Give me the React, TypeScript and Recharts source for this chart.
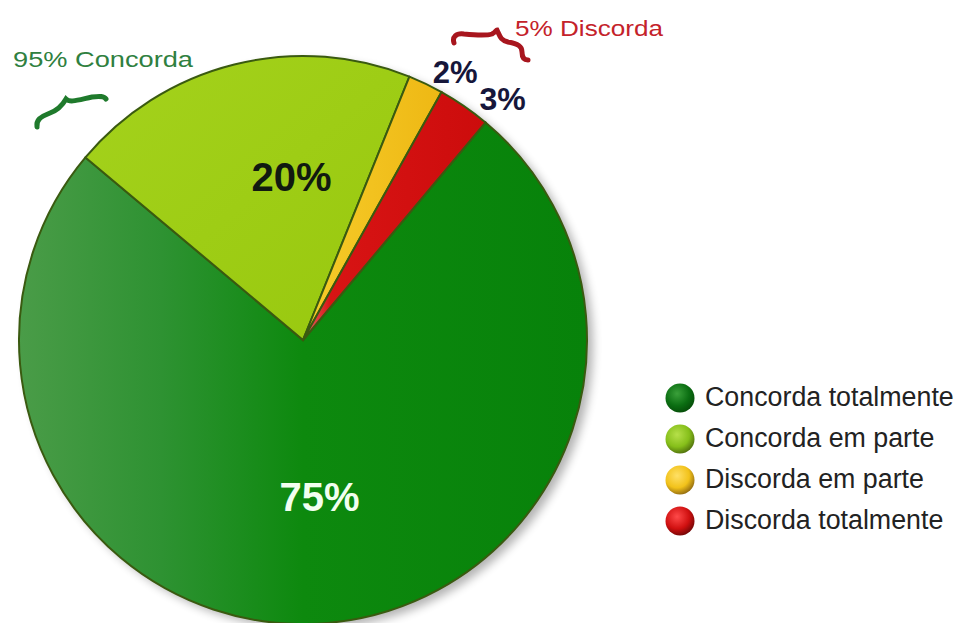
import { PieChart, Pie, Cell } from "recharts";

const categories = ["Concorda totalmente", "Concorda em parte", "Discorda em parte", "Discorda totalmente"];
const values = [75, 20, 2, 3];
const valueLabels = ["75%", "20%", "2%", "3%"];
const groupLabels = ["95% Concorda", "5% Discorda"];

const chartData = categories.map((name, i) => ({ name, value: values[i], label: valueLabels[i] }));

const sliceFills = ["url(#gDark)", "url(#gLight)", "url(#gYellow)", "url(#gRed)"];
const legendColors = [
  ["#3aa03a", "#0b6e12", "#054a08"],
  ["#b6e04a", "#86bf1a", "#4c6a0c"],
  ["#ffe066", "#f2c21a", "#8a6410"],
  ["#ff4a4a", "#d01010", "#6a0606"],
];

const RAD = Math.PI / 180;

// nudges so the percentages sit where the original put them
const labelStyle = [
  { r: 158, shift: 1, size: 40, color: "#f2fff0" },
  { r: 163, shift: -10, size: 40, color: "#111a10" },
  { r: 308, shift: -4, size: 31, color: "#16163a" },
  { r: 313, shift: -5, size: 32, color: "#16163a" },
];

function renderLabel(props: any) {
  const { cx, cy, midAngle, index } = props;
  const s = labelStyle[index];
  const a = (midAngle + s.shift) * RAD;
  const x = cx + s.r * Math.cos(-a);
  const y = cy + s.r * Math.sin(-a);
  return (
    <text
      x={x}
      y={y}
      textAnchor="middle"
      dominantBaseline="central"
      fill={s.color}
      fontFamily="'Liberation Sans', Arial, sans-serif"
      fontWeight="bold"
      fontSize={s.size}
    >
      {chartData[index].label}
    </text>
  );
}

function ChartLegend() {
  return (
    <div style={{ position: "absolute", left: 664, top: 377, fontFamily: "'Liberation Sans', Arial, sans-serif" }}>
      {categories.map((name, i) => (
        <div key={name} style={{ display: "flex", alignItems: "center", height: 41 }}>
          <svg width={32} height={32} style={{ marginRight: 9 }}>
            <defs>
              <radialGradient id={`lg${i}`} cx="40%" cy="35%" r="70%">
                <stop offset="0%" stopColor={legendColors[i][0]} />
                <stop offset="60%" stopColor={legendColors[i][1]} />
                <stop offset="100%" stopColor={legendColors[i][2]} />
              </radialGradient>
            </defs>
            <circle cx={16} cy={16} r={14.5} fill={`url(#lg${i})`} />
          </svg>
          <span style={{ fontSize: 26.8, color: "#222", whiteSpace: "nowrap" }}>{name}</span>
        </div>
      ))}
    </div>
  );
}

export default function App() {
  return (
    <div style={{ position: "absolute", left: 0, top: 0, width: 958, height: 623, background: "#fff", overflow: "hidden" }}>
      <PieChart width={958} height={623} margin={{ top: 0, right: 0, bottom: 0, left: 0 }}>
        <defs>
          <linearGradient id="gDark" x1="0" y1="0" x2="1" y2="0">
            <stop offset="0%" stopColor="#4a9c48" />
            <stop offset="25%" stopColor="#2e9232" />
            <stop offset="50%" stopColor="#0d890e" />
            <stop offset="100%" stopColor="#07820a" />
          </linearGradient>
          <linearGradient id="gLight" x1="0" y1="0" x2="1" y2="1">
            <stop offset="0%" stopColor="#a4d21c" />
            <stop offset="100%" stopColor="#98c80e" />
          </linearGradient>
          <linearGradient id="gYellow" x1="0" y1="0" x2="1" y2="0">
            <stop offset="0%" stopColor="#f6cc2a" />
            <stop offset="100%" stopColor="#eeb814" />
          </linearGradient>
          <linearGradient id="gRed" x1="0" y1="0" x2="1" y2="0">
            <stop offset="0%" stopColor="#e86a6a" />
            <stop offset="15%" stopColor="#d81414" />
            <stop offset="100%" stopColor="#cc0c0c" />
          </linearGradient>
          <filter id="pieShadow" x="-10%" y="-10%" width="120%" height="120%">
            <feGaussianBlur in="SourceAlpha" stdDeviation="5" />
            <feOffset dx="6" dy="5" />
            <feComponentTransfer>
              <feFuncA type="linear" slope="0.3" />
            </feComponentTransfer>
          </filter>
        </defs>
        <Pie
          data={[{ name: "shadow", value: 1 }]}
          dataKey="value"
          cx={303}
          cy={340}
          outerRadius={284}
          startAngle={0}
          endAngle={360}
          stroke="none"
          isAnimationActive={false}
          legendType="none"
        >
          <Cell fill="#b89aa8" filter="url(#pieShadow)" />
        </Pie>
        <Pie
          data={chartData}
          dataKey="value"
          nameKey="name"
          cx={303}
          cy={340}
          outerRadius={284}
          startAngle={50}
          endAngle={-310}
          stroke="#3a5a10"
          strokeWidth={2}
          label={renderLabel}
          labelLine={false}
          isAnimationActive={false}
        >
          {chartData.map((d, i) => (
            <Cell key={d.name} fill={sliceFills[i]} />
          ))}
        </Pie>
      </PieChart>
      <ChartLegend />
      <svg width={958} height={623} style={{ position: "absolute", left: 0, top: 0, pointerEvents: "none" }}>
        <text
          x={13}
          y={67}
          fill="#2f8040"
          fontFamily="'Liberation Sans', Arial, sans-serif"
          fontSize={22}
          textLength={180}
          lengthAdjust="spacingAndGlyphs"
        >
          {groupLabels[0]}
        </text>
        <path
          d="M37 127 C36 120 40 117 50 113 C58 110 62 106 66 99 C70 103 78 100 92 97 C100 96 104 96 106 99"
          fill="none"
          stroke="#1f7a2c"
          strokeWidth={5}
          strokeLinecap="round"
        />
        <text
          x={515}
          y={36}
          fill="#c4222a"
          fontFamily="'Liberation Sans', Arial, sans-serif"
          fontSize={22}
          textLength={148}
          lengthAdjust="spacingAndGlyphs"
        >
          {groupLabels[1]}
        </text>
        <path
          d="M454 43 C452 37 456 33 464 34 C474 35 486 36 492 34 C496 32 496 30 497 30 C500 36 500 40 508 42 C518 44 522 46 522 52 C522 57 524 60 528 60"
          fill="none"
          stroke="#a8161e"
          strokeWidth={5}
          strokeLinecap="round"
        />
      </svg>
    </div>
  );
}
